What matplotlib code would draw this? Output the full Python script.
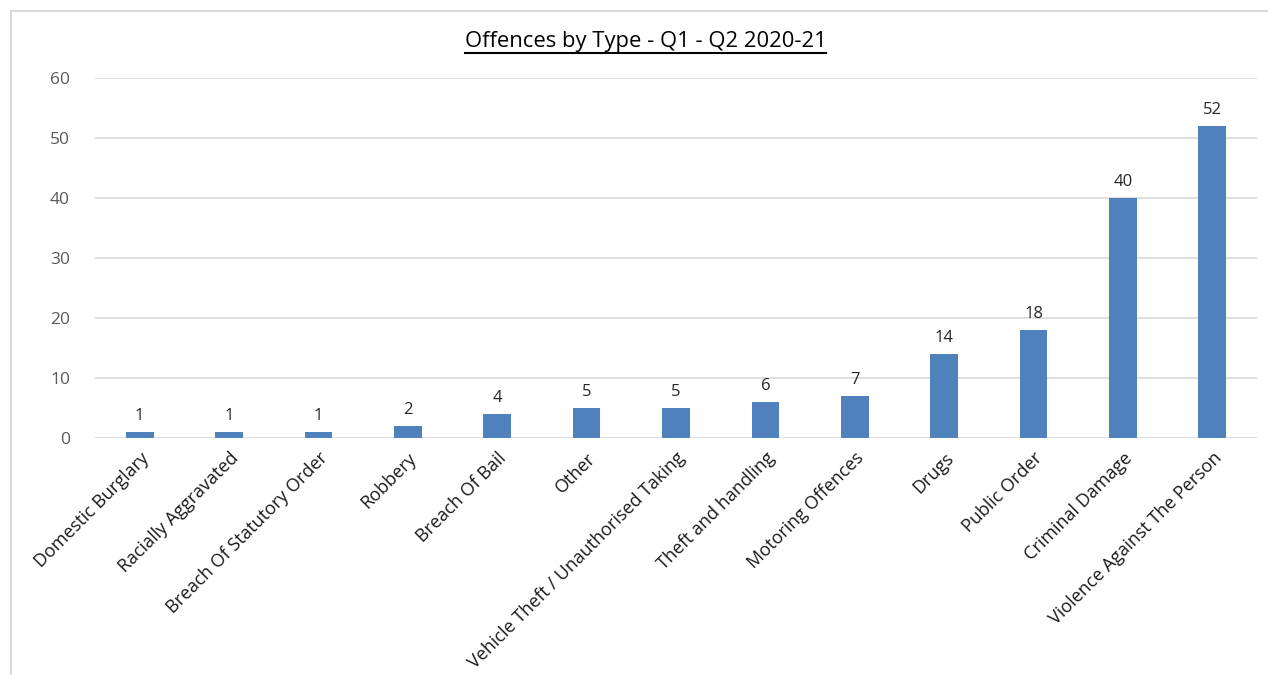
import matplotlib
matplotlib.use("Agg")
import matplotlib.pyplot as plt
from matplotlib.patches import Rectangle
from matplotlib.lines import Line2D

categories = ["Domestic Burglary", "Racially Aggravated", "Breach Of Statutory Order",
              "Robbery", "Breach Of Bail", "Other", "Vehicle Theft / Unauthorised Taking",
              "Theft and handling", "Motoring Offences", "Drugs", "Public Order",
              "Criminal Damage", "Violence Against The Person"]
values = [1, 1, 1, 2, 4, 5, 5, 6, 7, 14, 18, 40, 52]
yticks = [0, 10, 20, 30, 40, 50, 60]
title = "Offences by Type - Q1 - Q2 2020-21"

plt.rcParams['font.family'] = ['Open Sans', 'DejaVu Sans']

W, H = 1268, 675
fig = plt.figure(figsize=(W/100, H/100), dpi=100)
ax = fig.add_axes([95/W, 1-438/H, (1257-95)/W, (438-78)/H])

x = list(range(len(categories)))
ax.bar(x, values, width=0.31, color="#4F81BD", zorder=3)
for xi, v in zip(x, values):
    ax.annotate(str(v), (xi, v), xytext=(0, 6), textcoords="offset points",
                ha="center", va="bottom", fontsize=12, color="#262626")

ax.set_xlim(-0.5, len(categories)-0.5)
ax.set_ylim(0, 60)
ax.set_yticks(yticks)
ax.set_yticklabels([str(t) for t in yticks], fontsize=12.5, color="#595959")
ax.set_xticks(x)
ax.set_xticklabels(categories, rotation=45, ha="right", rotation_mode="anchor",
                   fontsize=13, color="#1a1a1a")
ax.tick_params(axis="both", length=0)
ax.tick_params(axis="y", pad=18)
ax.tick_params(axis="x", pad=8)
for s in ax.spines.values():
    s.set_visible(False)
ax.grid(axis="y", color="#D9D9D9", linewidth=1.2, zorder=0)
ax.set_axisbelow(True)

t = fig.text(645.5/W, 1-42/H, title, ha="center", va="center",
             fontsize=15.8, color="#000000")
fig.canvas.draw()
bb = t.get_window_extent()
fig.add_artist(Line2D([bb.x0/W, bb.x1/W], [(bb.y0-0.5)/H, (bb.y0-0.5)/H],
                      color="black", linewidth=1.5, transform=fig.transFigure))

fig.add_artist(Rectangle((11/W, -0.05), 1.2, 1-11/H+0.05, transform=fig.transFigure,
                         fill=False, edgecolor="#D9D9D9", linewidth=1.5))

fig.savefig("out.png", dpi=100, facecolor="white")
